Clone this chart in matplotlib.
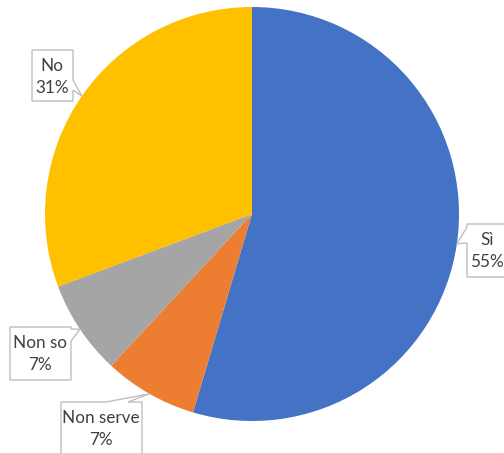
import matplotlib
matplotlib.use("Agg")
import matplotlib.pyplot as plt
from matplotlib.patches import Polygon
import numpy as np

# Data
categories = ["Sì", "Non serve", "Non so", "No"]
values = [54.6, 7.3, 7.4, 30.7]
colors = ["#4472C4", "#ED7D31", "#A5A5A5", "#FFC000"]

W, H = 504, 453
fig = plt.figure(figsize=(W / 100, H / 100), dpi=100)
ax = fig.add_axes([0, 0, 1, 1])

cx, cy, r = 252, 214, 207  # pixel coords (top-left origin)

wedges, _ = ax.pie(values, colors=colors, startangle=90, counterclock=False,
                   center=(cx, H - cy), radius=r,
                   wedgeprops=dict(linewidth=0))
ax.set_aspect("auto")
ax.set_xlim(0, W)
ax.set_ylim(0, H)
ax.axis("off")

# Callout layout (pixel coords, top-left origin): box, side of tail, tail base span, text center
layout = {
    "Sì":        dict(box=(467, 224, 511, 277), side="left",  base=(227, 243), text=(487, 251)),
    "Non serve": dict(box=(61, 402, 142, 460),  side="top",   base=(106, 128), text=(101, 429)),
    "Non so":    dict(box=(10, 327, 71, 380),   side="right", base=(329, 341), text=(40, 354)),
    "No":        dict(box=(32, 50, 73, 101),    side="right", base=(80, 90),   text=(52, 77)),
}

total = sum(values)
start = 90.0
for cat, v in zip(categories, values):
    span = 360.0 * v / total
    mid = np.deg2rad(start - span / 2)
    start -= span
    tipx = cx + r * np.cos(mid)
    tipy = cy - r * np.sin(mid)
    L = layout[cat]
    x0, y0, x1, y1 = L["box"]
    b0, b1 = L["base"]
    if L["side"] == "right":
        pts = [(x0, y0), (x1, y0), (x1, b0), (tipx, tipy), (x1, b1), (x1, y1), (x0, y1)]
    elif L["side"] == "left":
        pts = [(x0, y0), (x1, y0), (x1, y1), (x0, y1), (x0, b1), (tipx, tipy), (x0, b0)]
    else:  # top
        pts = [(x0, y0), (b0, y0), (tipx, tipy), (b1, y0), (x1, y0), (x1, y1), (x0, y1)]
    pts = [(px, H - py) for px, py in pts]
    ax.add_patch(Polygon(pts, closed=True, facecolor="white", edgecolor="#BFBFBF",
                         linewidth=1.0, zorder=5, clip_on=False))
    tx, ty = L["text"]
    ax.text(tx, H - ty, f"{cat}\n{v:.0f}%", ha="center", va="center", multialignment="center",
            fontsize=12.3, color="#404040", family="Lato", linespacing=1.5, zorder=6)

fig.savefig("out.png", dpi=100)
